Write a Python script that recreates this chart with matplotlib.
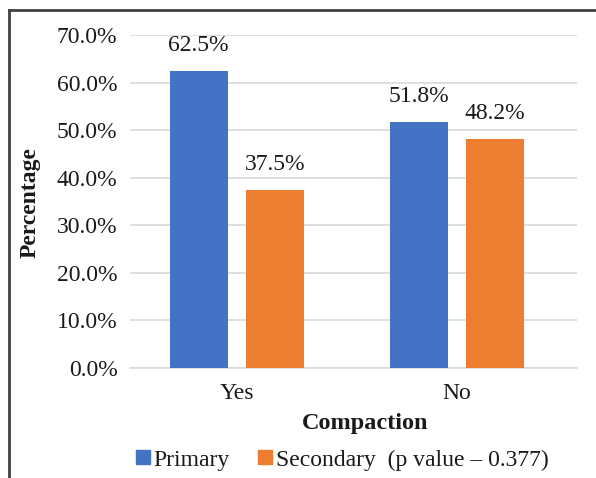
import numpy as np
import matplotlib
matplotlib.use('Agg')
import matplotlib.pyplot as plt
from matplotlib.lines import Line2D

categories = ['Yes', 'No']
primary = [62.5, 51.8]
secondary = [37.5, 48.2]
series_names = ['Primary', 'Secondary  (p value \u2013 0.377)']
yticks = [0, 10, 20, 30, 40, 50, 60, 70]

blue = '#4472C4'
orange = '#ED7D31'
serif = 'Liberation Serif'

plt.rcParams['font.family'] = serif

fig = plt.figure(figsize=(5.96, 4.78), dpi=100)
ax = fig.add_axes([130 / 596, 1 - 368 / 478, 447 / 596, 333 / 478])

x = np.arange(len(categories))
w = 0.263
off = 0.173
b1 = ax.bar(x - off, primary, w, color=blue, label=series_names[0], zorder=3)
b2 = ax.bar(x + off, secondary, w, color=orange, label=series_names[1], zorder=3)

for bars, vals in ((b1, primary), (b2, secondary)):
    for r, v in zip(bars, vals):
        ax.text(r.get_x() + r.get_width() / 2, v + 3.0, f'{v:.1f}%',
                ha='center', va='bottom', fontsize=17, color='#1a1a1a')

ax.set_ylim(0, 70)
ax.set_xlim(-0.485, 1.544)
ax.set_yticks(yticks)
ax.set_yticklabels([f'{t:.1f}%' for t in yticks], fontsize=17, color='#1a1a1a')
ax.set_xticks(x)
ax.set_xticklabels(categories, fontsize=17, color='#1a1a1a')
ax.tick_params(axis='both', length=0)
ax.tick_params(axis='y', pad=9)
ax.tick_params(axis='x', pad=11)
ax.grid(axis='y', color='#D9D9D9', linewidth=1.2, zorder=0)
for s in ['top', 'right', 'left']:
    ax.spines[s].set_visible(False)
ax.spines['bottom'].set_color('#D9D9D9')
ax.spines['bottom'].set_linewidth(1.2)

fig.text(30 / 596, 1 - 203 / 478, 'Percentage', rotation=90, ha='center', va='center',
         fontsize=17, fontweight='bold', color='#1a1a1a')
fig.text(365 / 596, 1 - 423 / 478, 'Compaction', ha='center', va='center',
         fontsize=17.5, fontweight='bold', color='#1a1a1a')

handles = [Line2D([], [], marker='s', linestyle='none', markersize=9.5, color=blue),
           Line2D([], [], marker='s', linestyle='none', markersize=9.5, color=orange)]
fig.legend(handles, series_names, loc='center', bbox_to_anchor=(342 / 596, 1 - 460 / 478),
           ncol=2, frameon=False, fontsize=17, handlelength=0.6, handletextpad=0.15,
           columnspacing=1.2, labelcolor='#1a1a1a')

# outer frame: only left and top edges visible in the reference
fig.add_artist(Line2D([9 / 596, 9 / 596], [0, 1 - 10 / 478], color='#404040', linewidth=2,
                      transform=fig.transFigure))
fig.add_artist(Line2D([9 / 596, 1], [1 - 10 / 478, 1 - 10 / 478], color='#404040', linewidth=2,
                      transform=fig.transFigure))

fig.savefig('out.png', dpi=100)
